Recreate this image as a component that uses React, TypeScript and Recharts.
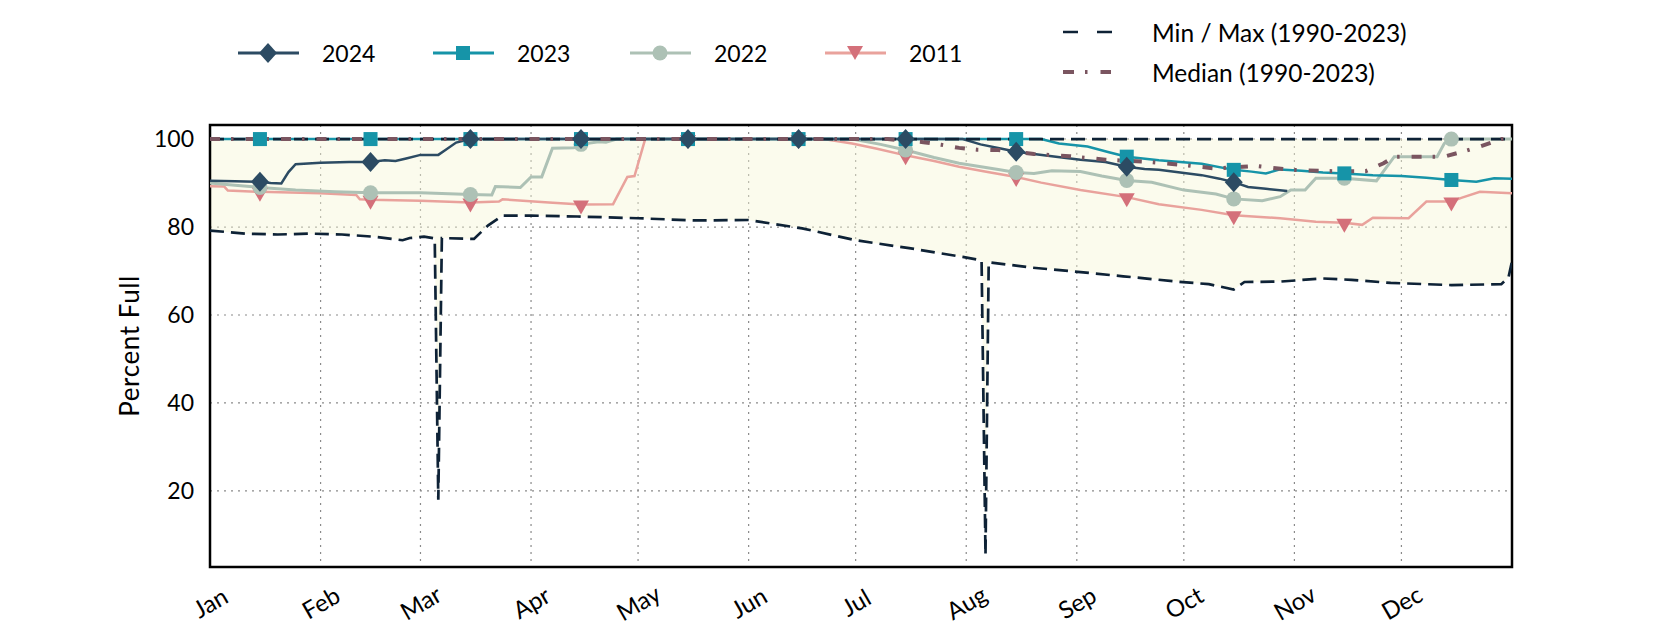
import React from 'react';
import { ComposedChart, Line, Area, XAxis, YAxis, CartesianGrid, ReferenceArea } from 'recharts';

// day-of-year axis, non-leap year
const MONTHS = ['Jan', 'Feb', 'Mar', 'Apr', 'May', 'Jun', 'Jul', 'Aug', 'Sep', 'Oct', 'Nov', 'Dec'];
const MONTH_START = [0, 31, 59, 90, 120, 151, 181, 212, 243, 273, 304, 334];
const MARK_DAYS = [14, 45, 73, 104, 134, 165, 195, 226, 257, 287, 318, 348];
const Y_TICKS = [20, 40, 60, 80, 100];

// [day, percent full]
const Y2024: [number, number][] = [
  [0, 90.5], [7, 90.4], [14, 90.3], [17, 90.0], [20, 89.9], [22, 92.5], [24, 94.3], [31, 94.6],
  [39, 94.8], [45, 94.8], [49, 95.2], [52, 95.0], [55, 95.6], [59, 96.4], [64, 96.4], [66, 97.5],
  [69, 99.2], [73, 100], [104, 100], [134, 100], [165, 100], [195, 100], [211, 100], [216, 98.8],
  [222, 97.8], [226, 97.1], [231, 96.6], [236, 96.1], [244, 95.3], [251, 94.8], [257, 93.7],
  [262, 93.2], [266, 93.0], [272, 92.4], [278, 91.8], [283, 91.0], [287, 90.2], [291, 89.1],
  [296, 88.7], [302, 88.2],
];

const Y2023: [number, number][] = [
  [0, 100], [14, 100], [45, 100], [73, 100], [104, 100], [134, 100], [165, 100], [195, 100],
  [226, 100], [233, 100], [238, 99.0], [246, 98.3], [252, 97.0], [257, 96.0], [266, 95.2],
  [272, 94.8], [278, 94.4], [287, 93.0], [292, 92.6], [296, 92.2], [300, 93.1], [306, 92.8],
  [312, 92.4], [318, 92.2], [326, 91.8], [334, 91.6], [341, 91.2], [348, 90.7], [355, 90.3],
  [360, 91.1], [365, 91.0],
];

const Y2022: [number, number][] = [
  [0, 90.0], [7, 89.5], [14, 89.0], [24, 88.4], [35, 88.0], [45, 87.8], [59, 87.8], [73, 87.4],
  [79, 87.3], [80, 89.2], [87, 89.0], [90, 91.4], [93, 91.4], [96, 97.9], [102, 98.0], [104, 98.8],
  [109, 99.4], [111, 99.3], [114, 100], [134, 100], [165, 100], [180, 100], [188, 98.8],
  [195, 97.5], [203, 95.8], [210, 94.5], [221, 93.1], [226, 92.4], [231, 92.2], [236, 92.8],
  [244, 92.6], [250, 91.6], [257, 90.6], [264, 90.2], [273, 88.4], [282, 87.5], [287, 86.4],
  [295, 86.0], [300, 86.9], [303, 88.4], [307, 88.4], [310, 91.1], [318, 91.1], [327, 90.5],
  [332, 96.0], [344, 96.0], [346, 99.0], [348, 100], [365, 100],
];

const Y2011: [number, number][] = [
  [0, 89.3], [4, 89.2], [5, 88.3], [14, 88.0], [31, 87.7], [41, 87.3], [42, 86.3], [45, 86.2],
  [59, 86.0], [73, 85.6], [81, 85.8], [82, 86.3], [95, 85.6], [104, 85.1], [113, 85.2],
  [117, 91.4], [119, 91.6], [122, 100], [134, 100], [165, 100], [172, 100], [180, 99.0],
  [187, 97.8], [195, 96.3], [203, 95.0], [210, 93.7], [218, 92.5], [226, 91.4], [233, 90.1],
  [244, 88.4], [257, 86.8], [266, 85.2], [278, 83.9], [287, 82.7], [300, 82.0], [310, 81.2],
  [318, 81.0], [323, 80.5], [326, 82.1], [336, 82.0], [341, 85.8], [348, 85.8], [351, 86.7],
  [356, 88.0], [365, 87.7],
];

const MEDIAN: [number, number][] = [
  [0, 100], [190, 100], [200, 99.3], [205, 98.7], [210, 98.0], [215, 97.6], [221, 97.5],
  [231, 96.6], [241, 96.1], [251, 95.3], [263, 94.8], [273, 94.1], [282, 93.3], [293, 93.9],
  [303, 93.0], [315, 92.7], [324, 92.7], [329, 94.5], [332, 96.0], [346, 96.0], [351, 97.1],
  [356, 98.3], [362, 100], [365, 100],
];

const MAX: [number, number][] = [[0, 100], [365, 100]];

const MIN: [number, number][] = [
  [0, 79.2], [10, 78.5], [19, 78.3], [28, 78.5], [37, 78.3], [46, 77.8], [54, 77.0], [56, 77.5],
  [60, 77.8], [63, 77.4], [64, 18], [65, 77.5], [74, 77.3], [78, 80.4], [82, 82.6], [90, 82.6],
  [103, 82.4], [120, 82.0], [136, 81.5], [151, 81.6], [166, 79.7], [181, 77.0], [196, 75.2],
  [211, 73.2], [216.3, 72.4], [217.4, 5.5], [218.3, 72.0], [230, 70.8], [241, 70.0], [256, 68.8],
  [271, 67.6], [280, 67.0], [287, 65.8], [290, 67.5], [300, 67.6], [312, 68.3], [320, 68.0],
  [331, 67.3], [348, 66.8], [362, 67.0], [364, 68.5], [365, 72.2],
];

const Y_MIN = 2.7;
const Y_MAX = 103.2;

const C2024 = '#2c4b63';
const C2023 = '#1694a8';
const C2022 = '#adc1b5';
const C2011 = '#e9a29c';
const C2011_MARK = '#d4707a';
const C_MINMAX = '#0e2236';
const C_MEDIAN = '#7a5560';
const FONT = 'Lato, "Noto Sans", sans-serif';

const rows = (pts: [number, number][]) => pts.map(([d, v]) => ({ d, v }));
const marks = (pts: [number, number][]) => rows(pts).filter((r) => MARK_DAYS.includes(r.d));

type Kind = 'diamond' | 'square' | 'circle' | 'triangle';

const Marker = ({ kind, cx, cy, color }: { kind: Kind; cx: number; cy: number; color: string }) => {
  if (kind === 'diamond') {
    return <polygon points={`${cx},${cy - 10} ${cx + 9},${cy} ${cx},${cy + 10} ${cx - 9},${cy}`} fill={color} />;
  }
  if (kind === 'square') {
    return <rect x={cx - 7} y={cy - 7} width={14} height={14} fill={color} />;
  }
  if (kind === 'circle') {
    return <circle cx={cx} cy={cy} r={7.5} fill={color} />;
  }
  const y = cy + 3;
  return <polygon points={`${cx - 8},${y - 7} ${cx + 8},${y - 7} ${cx},${y + 7}`} fill={color} />;
};

const markerDot = (kind: Kind, color: string) => (p: any) =>
  p.cx == null ? <g key={`${kind}-${p.index}`} /> : <Marker key={`${kind}-${p.index}`} kind={kind} cx={p.cx} cy={p.cy} color={color} />;

const MonthTick = (props: any) => {
  const { x, y, payload } = props;
  const ty = y + 27;
  return (
    <text
      x={x}
      y={ty}
      transform={`rotate(-30, ${x}, ${ty})`}
      textAnchor="middle"
      dominantBaseline="central"
      fontSize={24}
      fontFamily={FONT}
      fill="#000"
    >
      {MONTHS[MONTH_START.indexOf(payload.value)]}
    </text>
  );
};

const YEAR_LEGEND: { name: string; color: string; mark: string; kind: Kind; x: number }[] = [
  { name: '2024', color: C2024, mark: C2024, kind: 'diamond', x: 230 },
  { name: '2023', color: C2023, mark: C2023, kind: 'square', x: 425 },
  { name: '2022', color: C2022, mark: C2022, kind: 'circle', x: 622 },
  { name: '2011', color: C2011, mark: C2011_MARK, kind: 'triangle', x: 817 },
];

const Overlay = () => (
  <svg width={1664} height={622} style={{ position: 'absolute', left: 0, top: 0, pointerEvents: 'none' }}>
    {YEAR_LEGEND.map((l) => (
      <g key={l.name}>
        <line x1={l.x} x2={l.x + 61} y1={45} y2={45} stroke={l.color} strokeWidth={3} />
        <Marker kind={l.kind} cx={l.x + 30} cy={l.kind === 'triangle' ? 42 : 45} color={l.mark} />
        <text x={l.x + 84} y={45} dominantBaseline="central" fontSize={23} fontFamily={FONT} fill="#000">
          {l.name}
        </text>
      </g>
    ))}
    <line x1={1055} x2={1104} y1={24} y2={24} stroke={C_MINMAX} strokeWidth={2.7} strokeDasharray="15 19" />
    <text x={1144} y={24} dominantBaseline="central" fontSize={24.5} fontFamily={FONT} fill="#000">
      Min / Max (1990-2023)
    </text>
    <line x1={1055} x2={1103} y1={64} y2={64} stroke={C_MEDIAN} strokeWidth={4} strokeDasharray="11 11 2.5 13" />
    <text x={1144} y={64} dominantBaseline="central" fontSize={24.5} fontFamily={FONT} fill="#000">
      Median (1990-2023)
    </text>
    <text
      x={121}
      y={338}
      transform="rotate(-90, 121, 338)"
      textAnchor="middle"
      dominantBaseline="central"
      fontSize={26}
      fontFamily={FONT}
      fill="#000"
      letterSpacing={0.6}
    >
      Percent Full
    </text>
  </svg>
);

const App = () => {
  const band = MIN.map(([d, v]) => ({ d, band: [v, 100] }));
  return (
    <div style={{ position: 'relative', width: 1664, height: 622, fontFamily: FONT }}>
      <ComposedChart width={1664} height={622} margin={{ top: 117, right: 160, bottom: 13, left: 122 }} style={{ overflow: 'visible' }}>
        <CartesianGrid stroke="#8a8a8a" strokeDasharray="2 5" strokeWidth={1.2} />
        <XAxis
          type="number"
          dataKey="d"
          domain={[0, 365]}
          ticks={MONTH_START}
          interval={0}
          allowDataOverflow
          axisLine={false}
          tickLine={false}
          height={50}
          tick={<MonthTick />}
        />
        <YAxis
          type="number"
          domain={[Y_MIN, Y_MAX]}
          ticks={Y_TICKS}
          allowDataOverflow
          axisLine={false}
          tickLine={false}
          width={80}
          tickMargin={10}
          tick={{ fontSize: 23, fontFamily: FONT, fill: '#000' }}
        />
        <Area data={band} dataKey="band" type="linear" stroke="none" fill="#f7f7d8" fillOpacity={0.45} isAnimationActive={false} />
        <Line data={rows(Y2011)} dataKey="v" type="linear" stroke={C2011} strokeWidth={2.5} dot={false} isAnimationActive={false} />
        <Line data={rows(Y2022)} dataKey="v" type="linear" stroke={C2022} strokeWidth={3} dot={false} isAnimationActive={false} />
        <Line data={rows(Y2023)} dataKey="v" type="linear" stroke={C2023} strokeWidth={2.5} dot={false} isAnimationActive={false} />
        <Line data={rows(Y2024)} dataKey="v" type="linear" stroke={C2024} strokeWidth={2.5} dot={false} isAnimationActive={false} />
        <Line data={rows(MAX)} dataKey="v" type="linear" stroke={C_MINMAX} strokeWidth={2.7} strokeDasharray="14 7" dot={false} isAnimationActive={false} />
        <Line data={rows(MIN)} dataKey="v" type="linear" stroke={C_MINMAX} strokeWidth={2.7} strokeDasharray="14 7" dot={false} isAnimationActive={false} />
        <Line data={rows(MEDIAN)} dataKey="v" type="linear" stroke={C_MEDIAN} strokeWidth={4} strokeDasharray="10 11 2.5 12" dot={false} isAnimationActive={false} />
        <Line data={marks(Y2011)} dataKey="v" stroke="none" dot={markerDot('triangle', C2011_MARK)} activeDot={false} isAnimationActive={false} />
        <Line data={marks(Y2022)} dataKey="v" stroke="none" dot={markerDot('circle', C2022)} activeDot={false} isAnimationActive={false} />
        <Line data={marks(Y2023)} dataKey="v" stroke="none" dot={markerDot('square', C2023)} activeDot={false} isAnimationActive={false} />
        <Line data={marks(Y2024)} dataKey="v" stroke="none" dot={markerDot('diamond', C2024)} activeDot={false} isAnimationActive={false} />
        <ReferenceArea x1={0} x2={365} y1={Y_MIN} y2={Y_MAX} fill="none" stroke="#000" strokeWidth={2.5} ifOverflow="visible" />
      </ComposedChart>
      <Overlay />
    </div>
  );
};

export default App;
